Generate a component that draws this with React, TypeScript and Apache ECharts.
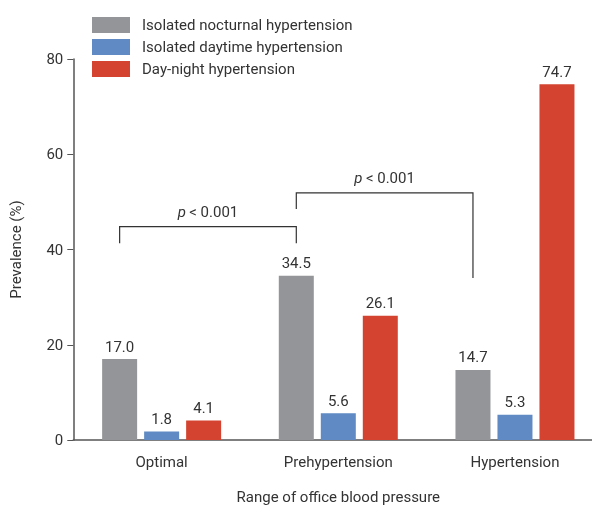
import React, { useEffect, useRef } from "react";
import * as echarts from "echarts";

const categories = ["Optimal", "Prehypertension", "Hypertension"];
const seriesNames = [
  "Isolated nocturnal hypertension",
  "Isolated daytime hypertension",
  "Day-night hypertension",
];
const nocturnal = [17.0, 34.5, 14.7];
const daytime = [1.8, 5.6, 5.3];
const dayNight = [4.1, 26.1, 74.7];
const yTicks = [0, 20, 40, 60, 80];
// bracket: [fromCategory, toCategory, topValue, leftEndValue, rightEndValue]
const brackets = [
  [0, 1, 44.8, 41.3, 41.3],
  [1, 2, 51.9, 48.5, 34.0],
];
const pLabel = "p < 0.001";

const COLORS = ["#939598", "#5f8ac4", "#d3432f"];
const FONT = "Roboto";
const TEXT = "#333333";
const BAR_W = 35;
const GAP = 7;

export default function App() {
  const ref = useRef<HTMLDivElement>(null);
  useEffect(() => {
    if (!ref.current) return;
    const chart = echarts.init(ref.current, null, { renderer: "svg" });
    const barSeries = [nocturnal, daytime, dayNight].map((d, i) => ({
      type: "bar",
      name: seriesNames[i],
      data: d,
      barWidth: BAR_W,
      barGap: "20%",
      itemStyle: { color: COLORS[i] },
      label: {
        show: true,
        position: "top",
        distance: 5,
        formatter: (p: any) => p.value.toFixed(1),
        color: TEXT,
        fontFamily: FONT,
        fontSize: 15,
      },
    }));
    const grayOffset = -(BAR_W + GAP);
    chart.setOption({
      animation: false,
      textStyle: { fontFamily: FONT },
      legend: {
        orient: "vertical",
        left: 87,
        top: 12,
        itemWidth: 38,
        itemHeight: 16,
        itemGap: 6,
        icon: "rect",
        data: seriesNames,
        textStyle: {
          color: TEXT,
          fontFamily: FONT,
          fontSize: 15,
          padding: [0, 0, 0, 7],
        },
      },
      grid: {
        left: 73.3,
        right: -11.3,
        top: 59,
        bottom: 66,
        containLabel: false,
        outerBoundsMode: "none",
      },
      xAxis: {
        type: "category",
        data: categories,
        axisLine: { lineStyle: { color: "#555", width: 1.5 } },
        axisTick: { show: false },
        axisLabel: { color: TEXT, fontSize: 15, margin: 14, fontFamily: FONT },
        name: "Range of office blood pressure",
        nameLocation: "middle",
        nameGap: 49,
        nameTextStyle: { color: TEXT, fontSize: 15, fontFamily: FONT },
      },
      yAxis: {
        type: "value",
        min: yTicks[0],
        max: yTicks[yTicks.length - 1],
        interval: 20,
        splitLine: { show: false },
        axisLine: { show: true, lineStyle: { color: "#555", width: 1.5 } },
        axisTick: { show: true, length: 6, lineStyle: { color: "#555" } },
        axisLabel: { color: TEXT, fontSize: 15, margin: 10, fontFamily: FONT },
        name: "Prevalence (%)",
        nameLocation: "middle",
        nameGap: 50,
        nameTextStyle: { color: TEXT, fontSize: 15, fontFamily: FONT },
      },
      series: [
        ...barSeries,
        {
          type: "custom",
          data: brackets,
          silent: true,
          z: 5,
          renderItem: (params: any, api: any) => {
            const from = api.value(0);
            const to = api.value(1);
            const top = api.coord([from, api.value(2)]);
            const lb = api.coord([from, api.value(3)]);
            const rTop = api.coord([to, api.value(2)]);
            const rb = api.coord([to, api.value(4)]);
            const x1 = top[0] + grayOffset;
            const x2 = rTop[0] + grayOffset;
            return {
              type: "group",
              children: [
                {
                  type: "polyline",
                  shape: {
                    points: [
                      [x1, lb[1]],
                      [x1, top[1]],
                      [x2, top[1]],
                      [x2, rb[1]],
                    ],
                  },
                  style: { stroke: "#333", lineWidth: 1.2, fill: "none" },
                },
                {
                  type: "text",
                  x: (x1 + x2) / 2,
                  y: top[1] - 7,
                  style: {
                    text: "{i|p} {n|" + pLabel.slice(2) + "}",
                    align: "center",
                    verticalAlign: "bottom",
                    rich: {
                      i: { fontStyle: "italic", fontSize: 15, fill: TEXT, fontFamily: FONT },
                      n: { fontSize: 15, fill: TEXT, fontFamily: FONT },
                    },
                  },
                },
              ],
            };
          },
        },
      ],
    });
    return () => chart.dispose();
  }, []);
  return (
    <div
      ref={ref}
      style={{ position: "fixed", left: 0, top: 0, width: 592, height: 506 }}
    />
  );
}
